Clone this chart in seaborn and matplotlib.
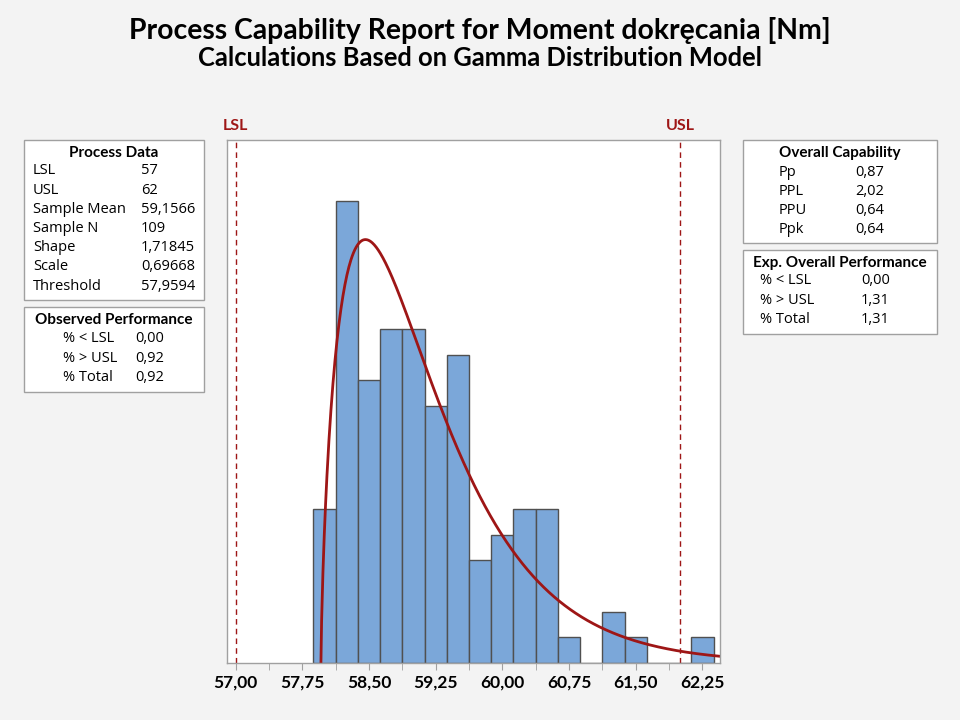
import math
import numpy as np
import pandas as pd
from matplotlib import pyplot as plt
from matplotlib.ticker import MultipleLocator, FuncFormatter
import seaborn as sns

# process data
lsl = 57
usl = 62
sample_n = 109
shape = 1.71845
scale = 0.69668
threshold = 57.9594

# histogram bins (width 0.25) and counts
bin_start = 57.875
bin_width = 0.25
counts = [6, 18, 11, 13, 13, 10, 12, 4, 5, 6, 6, 1, 0, 2, 1, 0, 0, 1]

process_rows = [('LSL', '57'), ('USL', '62'), ('Sample Mean', '59,1566'),
                ('Sample N', '109'), ('Shape', '1,71845'), ('Scale', '0,69668'),
                ('Threshold', '57,9594')]
observed_rows = [('% < LSL', '0,00'), ('% > USL', '0,92'), ('% Total', '0,92')]
capability_rows = [('Pp', '0,87'), ('PPL', '2,02'), ('PPU', '0,64'), ('Ppk', '0,64')]
expected_rows = [('% < LSL', '0,00'), ('% > USL', '1,31'), ('% Total', '1,31')]

sns.set_style('white')
plt.rcParams['font.family'] = ['Open Sans', 'DejaVu Sans']
plt.rcParams['text.color'] = 'black'
plt.rcParams['xtick.labelcolor'] = 'black'
bold_font = ['Lato', 'DejaVu Sans']

edges = [bin_start + bin_width * i for i in range(len(counts) + 1)]
centers = [e + bin_width / 2 for e in edges[:-1]]
hist_df = pd.DataFrame({'x': centers, 'n': counts})

# gamma pdf scaled to counts
xs = np.linspace(threshold + 1e-6, 62.45, 600)
z = xs - threshold
logpdf = (shape - 1) * np.log(z) - z / scale - math.lgamma(shape) - shape * math.log(scale)
curve_df = pd.DataFrame({'x': np.concatenate([[threshold], xs]),
                         'y': np.concatenate([[0], np.exp(logpdf) * sample_n * bin_width])})

bg = '#f3f3f3'
red = '#9e1616'
fig = plt.figure(figsize=(9.6, 7.2), dpi=100, facecolor=bg)
ax = fig.add_axes([0.2361, 0.0792, 0.5139, 0.7264])
ax.set_facecolor('white')

sns.histplot(data=hist_df, x='x', weights='n', bins=edges, ax=ax,
             color='#7ba7d9', edgecolor='#505050', linewidth=1, alpha=1)
sns.lineplot(data=curve_df, x='x', y='y', ax=ax, color=red, linewidth=2)

for v in (lsl, usl):
    ax.axvline(v, color=red, linestyle=(0, (4, 3)), linewidth=1)

ax.set_xlim(56.899, 62.448)
ax.set_ylim(0, 20.36)
ax.set_yticks([])
ax.set_xlabel('')
ax.set_ylabel('')
ax.xaxis.set_major_locator(MultipleLocator(0.75))
ax.xaxis.set_minor_locator(MultipleLocator(0.375))
ax.xaxis.set_major_formatter(FuncFormatter(lambda v, p: f'{v:.2f}'.replace('.', ',')))
ax.tick_params(axis='x', which='both', direction='out', length=5, color='#a0a0a0',
               bottom=True, labelsize=12.5, pad=3, labelcolor='black')
for lab in ax.get_xticklabels():
    lab.set_family(bold_font)
    lab.set_fontweight('bold')
for s in ax.spines.values():
    s.set_color('#a0a0a0')
    s.set_linewidth(1)

ax.text(lsl, 20.9, 'LSL', color=red, ha='center', va='center', fontsize=11.5,
        fontweight='bold', family=bold_font)
ax.text(usl, 20.9, 'USL', color=red, ha='center', va='center', fontsize=11.5,
        fontweight='bold', family=bold_font)

fig.text(0.5, 0.957, 'Process Capability Report for Moment dokręcania [Nm]',
         ha='center', va='center', fontsize=20.4, fontweight='bold', family=bold_font)
fig.text(0.5, 0.919, 'Calculations Based on Gamma Distribution Model',
         ha='center', va='center', fontsize=18.4, fontweight='bold', family=bold_font)


def px(x, y):
    return x / 960, 1 - y / 720


def info_box(x0, y0, x1, y1, title, rows, lab_x, val_x, first_y, step=19.2):
    fig.patches.append(plt.Rectangle(px(x0, y1), (x1 - x0) / 960, (y1 - y0) / 720,
                                     transform=fig.transFigure, facecolor='white',
                                     edgecolor='#a0a0a0', linewidth=1))
    fig.text(*px((x0 + x1) / 2, y0 + 13), title, ha='center', va='center',
             fontsize=11, fontweight='bold', family=bold_font)
    for i, (lab, val) in enumerate(rows):
        yy = first_y + i * step
        fig.text(*px(lab_x, yy), lab, ha='left', va='center', fontsize=10.5)
        fig.text(*px(val_x, yy), val, ha='left', va='center', fontsize=10.5)


info_box(24, 140, 204, 300, 'Process Data', process_rows, 33, 141, 171)
info_box(24, 307, 204, 392, 'Observed Performance', observed_rows, 63, 135, 339)
info_box(743, 140, 937, 243, 'Overall Capability', capability_rows, 779, 855, 172)
info_box(743, 250, 937, 334, 'Exp. Overall Performance', expected_rows, 760, 861, 281)

plt.savefig('out.png', facecolor=bg)
